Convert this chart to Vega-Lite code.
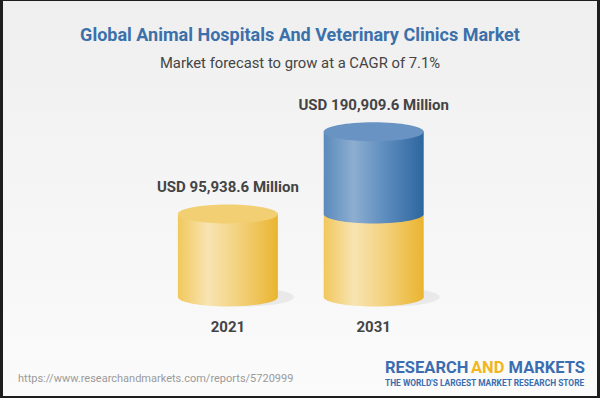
{
  "$schema": "https://vega.github.io/schema/vega-lite/v6.json",
  "width": 594,
  "height": 395,
  "autosize": {"type": "none"},
  "padding": {"left": 3, "top": 1, "right": 3, "bottom": 2},
  "background": "#1e1e1e",
  "config": {
    "font": "Roboto",
    "view": {"stroke": null, "fill": "#f4f4f4"}
  },
  "title": {
    "text": "Global Animal Hospitals And Veterinary Clinics Market",
    "subtitle": "Market forecast to grow at a CAGR of 7.1%",
    "anchor": "middle",
    "frame": "group",
    "offset": -70,
    "font": "Roboto",
    "fontSize": 18,
    "fontWeight": "bold",
    "color": "#3b70ab",
    "subtitleFont": "Roboto",
    "subtitleFontSize": 14.8,
    "subtitleColor": "#444444",
    "subtitlePadding": 11
  },
  "layer": [
    {
      "data": {"values": [{"t": "bg"}]},
      "mark": {"type": "rect",
        "fill": {"gradient": "linear", "x1": 0, "y1": 0, "x2": 0, "y2": 1, "stops": [{"offset": 0, "color": "#efefef"}, {"offset": 1, "color": "#fbfbfb"}]}},
      "encoding": {"x": {"value": 0}, "x2": {"value": "width"}, "y": {"value": 0}, "y2": {"value": "height"}}
    },
    {
      "data": {"values": [
        {"year": 2021, "base": 95938.6, "total": 95938.6, "label": "USD 95,938.6 Million"},
        {"year": 2031, "base": 95938.6, "total": 190909.6, "label": "USD 190,909.6 Million"}
      ]},
      "encoding": {
        "x": {"field": "year", "type": "quantitative", "scale": {"domain": [2005.92, 2045.97], "nice": false, "zero": false}, "axis": null}
      },
      "layer": [
        {
          "mark": {"type": "point", "shape": "M-1,0C-1,-0.105,-0.552,-0.19,0,-0.19C0.552,-0.19,1,-0.105,1,0C1,0.105,0.552,0.19,0,0.19C-0.552,0.19,-1,0.105,-1,0Z", "size": 10000, "filled": true, "fill": "#000000", "opacity": 0.06, "strokeWidth": 0, "xOffset": 16},
          "encoding": {"y": {"datum": 0, "type": "quantitative", "scale": {"domain": [-114434, 342147], "nice": false, "zero": false}, "axis": null}}
        },
        {
          "mark": {"type": "point", "shape": "M-1,0C-1,-0.105,-0.552,-0.19,0,-0.19C0.552,-0.19,1,-0.105,1,0C1,0.105,0.552,0.19,0,0.19C-0.552,0.19,-1,0.105,-1,0Z", "size": 10000, "filled": true, "opacity": 1, "strokeWidth": 0,
            "fill": {"gradient": "linear", "x1": 0, "y1": 0, "x2": 1, "y2": 0, "stops": [{"offset": 0, "color": "#f1c85c"}, {"offset": 0.3, "color": "#f8e4b2"}, {"offset": 0.6, "color": "#f3d27f"}, {"offset": 1, "color": "#eab42f"}]}},
          "encoding": {"y": {"datum": 0, "type": "quantitative"}}
        },
        {
          "mark": {"type": "bar", "size": 100,
            "fill": {"gradient": "linear", "x1": 0, "y1": 0, "x2": 1, "y2": 0, "stops": [{"offset": 0, "color": "#f1c85c"}, {"offset": 0.3, "color": "#f8e4b2"}, {"offset": 0.6, "color": "#f3d27f"}, {"offset": 1, "color": "#eab42f"}]}},
          "encoding": {"y": {"field": "base", "type": "quantitative"}, "y2": {"datum": 0}}
        },
        {
          "transform": [{"filter": "datum.total > datum.base"}],
          "mark": {"type": "bar", "size": 100,
            "fill": {"gradient": "linear", "x1": 0, "y1": 0, "x2": 1, "y2": 0, "stops": [{"offset": 0, "color": "#5a8abc"}, {"offset": 0.3, "color": "#8daed0"}, {"offset": 0.6, "color": "#5f8ebf"}, {"offset": 1, "color": "#2d669f"}]}},
          "encoding": {"y": {"field": "total", "type": "quantitative"}, "y2": {"field": "base"}}
        },
        {
          "transform": [{"filter": "datum.total > datum.base"}],
          "mark": {"type": "point", "shape": "M-1,0C-1,0.105,-0.552,0.19,0,0.19C0.552,0.19,1,0.105,1,0Z", "size": 10000, "filled": true, "opacity": 1, "strokeWidth": 0,
            "fill": {"gradient": "linear", "x1": 0, "y1": 0, "x2": 1, "y2": 0, "stops": [{"offset": 0, "color": "#5a8abc"}, {"offset": 0.3, "color": "#8daed0"}, {"offset": 0.6, "color": "#5f8ebf"}, {"offset": 1, "color": "#2d669f"}]}},
          "encoding": {"y": {"field": "base", "type": "quantitative"}}
        },
        {
          "mark": {"type": "point", "shape": "M-1,0C-1,-0.105,-0.552,-0.19,0,-0.19C0.552,-0.19,1,-0.105,1,0C1,0.105,0.552,0.19,0,0.19C-0.552,0.19,-1,0.105,-1,0Z", "size": 10000, "filled": true, "opacity": 1, "strokeWidth": 0},
          "encoding": {
            "y": {"field": "total", "type": "quantitative"},
            "fill": {"condition": {"test": "datum.total > datum.base", "value": "#6993c2"}, "value": "#f2cf72"}
          }
        },
        {
          "mark": {"type": "text", "font": "Roboto", "fontSize": 15, "fontWeight": "bold", "color": "#444444", "baseline": "middle", "dy": -27},
          "encoding": {"y": {"field": "total", "type": "quantitative"}, "text": {"field": "label"}}
        },
        {
          "mark": {"type": "text", "font": "Roboto", "fontSize": 15, "fontWeight": "bold", "color": "#444444", "baseline": "middle", "dy": 30},
          "encoding": {"y": {"datum": 0, "type": "quantitative"}, "text": {"field": "year", "format": "d"}}
        }
      ]
    },
    {
      "data": {"values": [{"t": "https://www.researchandmarkets.com/reports/5720999"}]},
      "mark": {"type": "text", "font": "Roboto", "fontSize": 11, "color": "#9a9a9a", "align": "left", "baseline": "middle", "x": 15, "y": 378},
      "encoding": {"text": {"field": "t"}}
    },
    {
      "data": {"values": [{"t": "RESEARCH"}]},
      "mark": {"type": "text", "font": "Roboto", "fontSize": 16.5, "fontWeight": "bold", "color": "#3b6eb0", "align": "left", "baseline": "middle", "x": 382, "y": 367},
      "encoding": {"text": {"field": "t"}}
    },
    {
      "data": {"values": [{"t": "AND"}]},
      "mark": {"type": "text", "font": "Roboto", "fontSize": 16.5, "fontWeight": "bold", "color": "#f2b520", "align": "left", "baseline": "middle", "x": 468, "y": 367},
      "encoding": {"text": {"field": "t"}}
    },
    {
      "data": {"values": [{"t": "MARKETS"}]},
      "mark": {"type": "text", "font": "Roboto", "fontSize": 16.5, "fontWeight": "bold", "color": "#3b6eb0", "align": "right", "baseline": "middle", "x": 582, "y": 367},
      "encoding": {"text": {"field": "t"}}
    },
    {
      "data": {"values": [{"t": "THE WORLD'S LARGEST MARKET RESEARCH STORE"}]},
      "mark": {"type": "text", "font": "Roboto", "fontSize": 8.4, "fontWeight": "bold", "color": "#3b6eb0", "align": "left", "baseline": "middle", "x": 382, "y": 382},
      "encoding": {"text": {"field": "t"}}
    }
  ]
}
